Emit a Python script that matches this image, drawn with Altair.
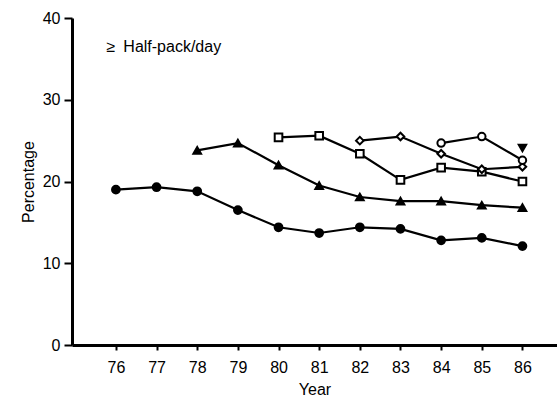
import altair as alt
import pandas as pd

series_names = ["A", "B", "C", "D", "E", "F"]
years_a = [76, 77, 78, 79, 80, 81, 82, 83, 84, 85, 86]
vals_a = [19.0, 19.3, 18.8, 16.5, 14.4, 13.7, 14.4, 14.2, 12.8, 13.1, 12.1]
years_b = [78, 79, 80, 81, 82, 83, 84, 85, 86]
vals_b = [23.8, 24.7, 22.0, 19.5, 18.1, 17.6, 17.6, 17.1, 16.8]
years_c = [80, 81, 82, 83, 84, 85, 86]
vals_c = [25.4, 25.6, 23.4, 20.2, 21.7, 21.2, 20.0]
years_d = [82, 83, 84, 85, 86]
vals_d = [25.0, 25.5, 23.4, 21.5, 21.8]
years_e = [84, 85, 86]
vals_e = [24.7, 25.5, 22.6]
years_f = [86]
vals_f = [24.1]

shapes = ["circle", "triangle-up", "square", "diamond", "circle", "triangle-down"]
fills = ["black", "black", "white", "white", "white", "black"]
sizes = [60, 55, 45, 22, 50, 40]

rows = []
for name, ys, vs in zip(series_names,
                        [years_a, years_b, years_c, years_d, years_e, years_f],
                        [vals_a, vals_b, vals_c, vals_d, vals_e, vals_f]):
    for y, v in zip(ys, vs):
        rows.append({"series": name, "year": y, "value": v})
df = pd.DataFrame(rows)

x_ticks = list(range(76, 87))
y_ticks = [0, 10, 20, 30, 40]

xscale = alt.Scale(domain=[74.92, 86.85], nice=False, zero=False)
yscale = alt.Scale(domain=[0, 40], nice=False)

x_enc = alt.X("year:Q", scale=xscale, title="Year",
              axis=alt.Axis(values=x_ticks, format="d", grid=False, tickSize=5,
                            domainWidth=3, tickWidth=2, labelPadding=9,
                            titlePadding=6))
y_enc = alt.Y("value:Q", scale=yscale, title="Percentage",
              axis=alt.Axis(values=y_ticks, grid=False, tickSize=8, domainWidth=3,
                            tickWidth=2, labelPadding=4, titlePadding=6))

lines = alt.Chart(df).mark_line(color="black", strokeWidth=2.2).encode(
    x=x_enc, y=y_enc, detail="series:N")

points = alt.Chart(df).mark_point(stroke="black", strokeWidth=2, opacity=1).encode(
    x="year:Q", y="value:Q",
    shape=alt.Shape("series:N", scale=alt.Scale(domain=series_names, range=shapes), legend=None),
    fill=alt.Fill("series:N", scale=alt.Scale(domain=series_names, range=fills), legend=None),
    size=alt.Size("series:N", scale=alt.Scale(domain=series_names, range=sizes), legend=None),
)

label = alt.Chart(pd.DataFrame({"t": ["≥\u2002Half-pack/day"], "x": [75.77], "y": [36.4]})).mark_text(
    align="left", baseline="middle", fontSize=16, font="Liberation Sans", color="black"
).encode(x="x:Q", y="y:Q", text="t:N")

chart = alt.layer(lines, points, label).properties(
    width=485, height=327,
    padding={"left": 72, "top": 18, "right": 0, "bottom": 55},
    autosize=alt.AutoSizeParams(type="none"),
).configure_view(stroke=None).configure_axis(
    labelFont="Liberation Sans", titleFont="Liberation Sans", labelFontSize=16,
    titleFontSize=16, titleFontWeight="normal", labelColor="black", titleColor="black",
    domainColor="black", tickColor="black"
)

chart.save("out.html", embed_options={"renderer": "svg", "actions": False})
